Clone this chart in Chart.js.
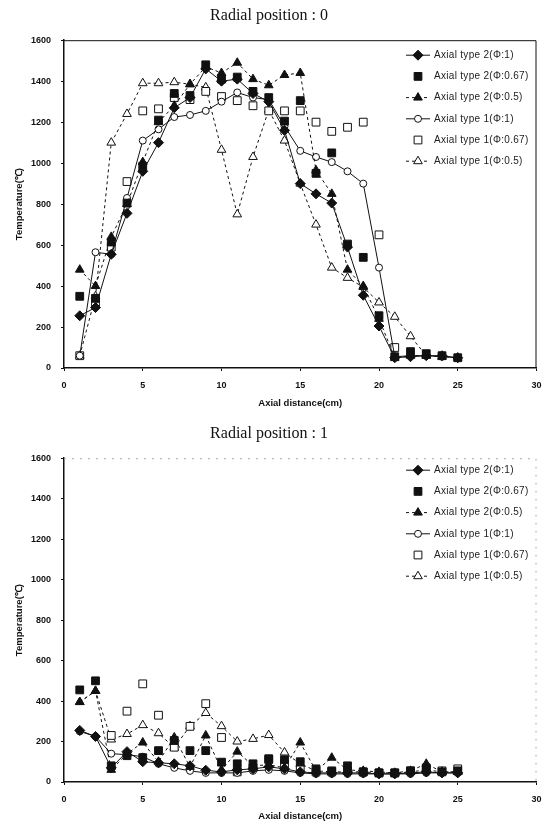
<!DOCTYPE html>
<html lang="en">
<head>
<meta charset="UTF-8">
<title>Radial position temperature profiles</title>
<style>
  body { margin: 0; background: #fff; }
  canvas { display: block; }
</style>
</head>
<body>
<canvas id="chart0" width="543" height="412"></canvas>
<canvas id="chart1" width="543" height="413"></canvas>

<script src="https://cdn.jsdelivr.net/npm/chart.js"></script>
<script>
// axial positions (cm) and axis ticks
const axialPos = [1,2,3,4,5,6,7,8,9,10,11,12,13,14,15,16,17,18,19,20,21,22,23,24,25];
const xTicks = [0,5,10,15,20,25,30];
const yTicks = [0,200,400,600,800,1000,1200,1400,1600];

const seriesNames = [
  'Axial type 2(Φ:1)',
  'Axial type 2(Φ:0.67)',
  'Axial type 2(Φ:0.5)',
  'Axial type 1(Φ:1)',
  'Axial type 1(Φ:0.67)',
  'Axial type 1(Φ:0.5)'
];

// Radial position : 0
const r0Type2Phi1   = [255,295,555,755,960,1100,1270,1320,1460,1400,1410,1340,1300,1160,900,850,805,590,355,205,50,55,60,60,50];
const r0Type2Phi067 = [350,340,615,805,985,1210,1340,1330,1480,1410,1420,1350,1320,1205,1305,950,1050,605,540,255,55,80,70,60,50];
const r0Type2Phi05  = [480,400,640,800,1005,1200,1280,1385,1470,1440,1490,1410,1380,1430,1440,965,850,480,400,240,50,60,60,55,50];
const r0Type1Phi1   = [60,565,555,830,1110,1165,1225,1235,1255,1300,1345,1320,1310,1180,1060,1030,1005,960,900,490,55,60,60,55,50];
const r0Type1Phi067 = [60,320,590,910,1255,1265,1320,1310,1350,1325,1305,1280,1255,1255,1255,1200,1155,1175,1200,650,100,null,null,null,null];
const r0Type1Phi05  = [60,350,1100,1240,1390,1390,1395,1385,1370,1065,750,1030,1260,1110,900,700,490,440,395,320,250,155,60,null,null];

// Radial position : 1
const r1Type2Phi1   = [255,225,70,150,100,95,90,80,58,50,60,65,75,65,50,45,45,45,45,40,40,45,50,45,45];
const r1Type2Phi067 = [455,500,80,130,120,155,205,155,155,98,90,90,115,110,100,65,55,80,50,45,45,55,60,50,55];
const r1Type2Phi05  = [395,450,60,140,195,100,220,75,230,60,150,80,85,70,195,55,120,60,55,50,45,55,90,50,50];
const r1Type1Phi1   = [250,225,140,135,125,90,70,55,45,45,45,55,60,55,45,40,40,40,40,40,40,40,45,45,45];
const r1Type1Phi067 = [null,null,230,350,485,330,172,275,387,220,50,70,110,90,60,50,50,55,50,45,45,55,70,55,65];
const r1Type1Phi05  = [395,450,210,237,281,241,170,276,341,276,200,213,232,146,90,55,50,50,50,45,45,50,60,50,50];

const ink = '#111';
const markStyles = [
  { shape: 'rectRot',  filled: true,  line: 'solid', r: 5 },
  { shape: 'rect',     filled: true,  line: null,    r: 5.5 },
  { shape: 'triangle', filled: true,  line: 'dash',  r: 5 },
  { shape: 'circle',   filled: false, line: 'solid', r: 3.5 },
  { shape: 'rect',     filled: false, line: null,    r: 5.5 },
  { shape: 'triangle', filled: false, line: 'dash',  r: 5 }
];

function drawMarker(ctx, st, x, y) {
  const r = st.r;
  ctx.beginPath();
  if (st.shape === 'circle') {
    ctx.arc(x, y, r, 0, Math.PI * 2);
  } else if (st.shape === 'rect') {
    const s = r * Math.SQRT1_2;
    ctx.rect(x - s, y - s, 2 * s, 2 * s);
  } else if (st.shape === 'rectRot') {
    ctx.moveTo(x, y - r); ctx.lineTo(x + r, y); ctx.lineTo(x, y + r); ctx.lineTo(x - r, y);
    ctx.closePath();
  } else {
    let a = 0;
    ctx.moveTo(x + Math.sin(a) * r, y - Math.cos(a) * r);
    a += 2 * Math.PI / 3;
    ctx.lineTo(x + Math.sin(a) * r, y - Math.cos(a) * r);
    a += 2 * Math.PI / 3;
    ctx.lineTo(x + Math.sin(a) * r, y - Math.cos(a) * r);
    ctx.closePath();
  }
  ctx.fillStyle = st.filled ? ink : '#fff';
  ctx.fill();
  ctx.lineWidth = 1;
  ctx.strokeStyle = ink;
  ctx.stroke();
}

// frame round the plot area + legend inside it
const framePlugin = {
  id: 'frameLegend',
  afterDraw(chart, args, opts) {
    const ctx = chart.ctx;
    const a = chart.chartArea;
    ctx.save();
    ctx.strokeStyle = opts.faint ? '#aaa' : ink;
    ctx.lineWidth = 1;
    if (opts.faint) ctx.setLineDash([2, 6]);
    ctx.beginPath();
    ctx.moveTo(a.left, a.top + 0.5);
    ctx.lineTo(a.right - 0.5, a.top + 0.5);
    ctx.lineTo(a.right - 0.5, a.bottom);
    ctx.stroke();
    ctx.setLineDash([]);

    ctx.font = '10px "Liberation Sans", Arial, sans-serif';
    ctx.letterSpacing = '0.3px';
    ctx.textBaseline = 'middle';
    chart.data.datasets.forEach((ds, i) => {
      const st = markStyles[i];
      const y = a.top + opts.top + i * opts.gap;
      const x0 = opts.x;
      if (st.line) {
        ctx.strokeStyle = ink;
        ctx.lineWidth = 1;
        ctx.setLineDash(st.line === 'dash' ? [3, 3] : []);
        ctx.beginPath();
        ctx.moveTo(x0, y);
        ctx.lineTo(x0 + 24, y);
        ctx.stroke();
        ctx.setLineDash([]);
      }
      drawMarker(ctx, st, x0 + 12, y);
      ctx.fillStyle = '#222';
      ctx.fillText(ds.label, x0 + 28, y);
    });
    ctx.restore();
  }
};

function makeDatasets(seriesList) {
  return seriesList.map((vals, i) => {
    const st = markStyles[i];
    const pts = [];
    vals.forEach((v, k) => { if (v !== null) pts.push({ x: axialPos[k], y: v }); });
    return {
      label: seriesNames[i],
      data: pts,
      showLine: !!st.line,
      borderColor: ink,
      borderWidth: 1,
      borderDash: st.line === 'dash' ? [3, 3] : [],
      pointStyle: st.shape,
      pointRadius: st.r,
      pointHoverRadius: st.r,
      pointBackgroundColor: st.filled ? ink : '#fff',
      pointBorderColor: ink,
      pointBorderWidth: 1,
      tension: 0
    };
  });
}

const tickFont = { family: '"Liberation Sans", Arial, sans-serif', size: 9, weight: 'bold' };
const axisTitleFont = { family: '"Liberation Sans", Arial, sans-serif', size: 9.5, weight: 'bold' };

function makeChart(id, title, seriesList, topPad, xHeight, faint, legendTop) {
  return new Chart(document.getElementById(id), {
    type: 'scatter',
    data: { datasets: makeDatasets(seriesList) },
    plugins: [framePlugin],
    options: {
      responsive: false,
      animation: false,
      events: [],
      layout: { padding: { left: 0, right: 5, top: topPad, bottom: 0 } },
      plugins: {
        legend: { display: false },
        tooltip: { enabled: false },
        title: {
          display: true,
          text: title,
          color: '#111',
          font: { family: '"Liberation Serif", "Times New Roman", serif', size: 16, weight: 'normal', lineHeight: 1.2 },
          padding: { top: 6, bottom: 15 }
        },
        frameLegend: { x: 406, top: legendTop, gap: 21.2, faint: faint }
      },
      scales: {
        x: {
          type: 'linear',
          min: 0, max: 30,
          afterBuildTicks: s => { s.ticks = xTicks.map(v => ({ value: v })); },
          afterFit: s => { s.height = xHeight; s.paddingRight = 0; s.paddingLeft = 0; },
          grid: { display: true, drawOnChartArea: false, tickLength: 3, color: ink },
          border: { color: ink, width: 1.5 },
          ticks: { color: '#111', font: tickFont, padding: 9, maxRotation: 0, callback: v => String(v) },
          title: {
            display: true, text: 'Axial distance(cm)', color: '#111',
            font: axisTitleFont,
            padding: { top: 0, bottom: 3 }
          }
        },
        y: {
          min: 0, max: 1600,
          afterBuildTicks: s => { s.ticks = yTicks.map(v => ({ value: v })); },
          afterFit: s => { s.width = 64; },
          grid: { display: true, drawOnChartArea: false, tickLength: 3, color: ink },
          border: { color: ink, width: 1.5 },
          ticks: { color: '#111', font: tickFont, padding: 10, callback: v => String(v) },
          title: {
            display: true, text: 'Temperature(℃)', color: '#111',
            font: axisTitleFont,
            padding: { top: 14, bottom: 0 }
          }
        }
      }
    }
  });
}

makeChart('chart0', 'Radial position : 0',
  [r0Type2Phi1, r0Type2Phi067, r0Type2Phi05, r0Type1Phi1, r0Type1Phi067, r0Type1Phi05],
  0, 44, false, 15);
makeChart('chart1', 'Radial position : 1',
  [r1Type2Phi1, r1Type2Phi067, r1Type2Phi05, r1Type1Phi1, r1Type1Phi067, r1Type1Phi05],
  6, 43, true, 12);
</script>
</body>
</html>
